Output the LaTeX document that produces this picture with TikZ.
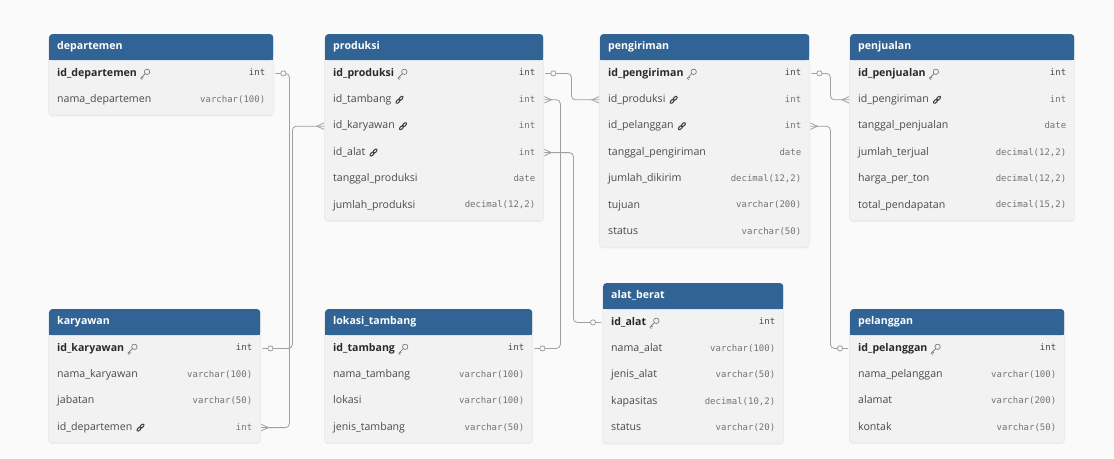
\documentclass[tikz,border=0pt]{standalone}
\usepackage{fontspec}
\setmainfont{Open Sans}
\newfontfamily\ermono{DejaVu Sans Mono}
\usetikzlibrary{calc}
\definecolor{bgc}{HTML}{FAFAFA}
\definecolor{hdr}{HTML}{316395}
\definecolor{bodyc}{HTML}{F2F2F2}
\definecolor{linec}{HTML}{A0A0A0}
\definecolor{pkc}{HTML}{2A2A2A}
\definecolor{namec}{HTML}{4A4A4A}
\definecolor{typec}{HTML}{737373}
\tikzset{
 conn/.style={draw=linec, line width=0.8pt},
 tblbody/.style={fill=bodyc, draw=black!6, rounded corners=3pt, inner sep=0pt},
 hdrbox/.style={fill=hdr, rounded corners=3pt, inner sep=0pt},
 rowbox/.style={inner sep=0pt, minimum height=26.4pt},
 ttl/.style={text=white, font=\bfseries\fontsize{10.6}{12}\selectfont, anchor=west, inner sep=0pt, text height=7.5pt, text depth=2pt},
 nm/.style={text=namec, font=\fontsize{10.6}{12}\selectfont, anchor=west, inner sep=0pt, text height=7.5pt, text depth=2pt},
 pknm/.style={text=pkc, font=\bfseries\fontsize{10.6}{12}\selectfont, anchor=west, inner sep=0pt, text height=7.5pt, text depth=2pt},
 ty/.style={text=typec, font=\ermono\fontsize{9}{10}\selectfont, anchor=east, inner sep=0pt, text height=7pt, text depth=2pt},
 pkty/.style={text=pkc!85, font=\ermono\fontsize{9}{10}\selectfont, anchor=east, inner sep=0pt, text height=7pt, text depth=2pt},
 keyic/.style={draw=pkc!65, line width=0.65pt},
 linkic/.style={draw=namec!90!black, line width=1.05pt},
}
\newcommand\ERtable[6]{%
 \def\ERid{#1}\def\ERx{#2}\def\ERy{#3}\def\ERw{#4}%
 \fill[black, opacity=0.06, rounded corners=4pt] (#2-1, #3+1) rectangle (#2+#4+1, {#3+26+#5*26.4+3.5});
 \node[tblbody, minimum width=#4pt, minimum height={(26+#5*26.4+1.5)*1pt}, anchor=north west] (#1) at (#2,#3) {};
 \node[hdrbox, minimum width=#4pt, minimum height=26pt, anchor=north west] (#1-h) at (#2,#3) {};
 \fill[hdr] (#2, #3+13) rectangle (#2+#4, #3+26);
 \node[ttl] (#1-ttl) at (#2+8, #3+13) {#6};
}
\newcommand\ERbox[1]{%
 \node[rowbox, minimum width=\ERw pt, anchor=north west] (\ERid-#1) at (\ERx, {\ERy+26+(#1-1)*26.4}) {};}
\newcommand\ERkey[1]{%
 \draw[keyic] ([shift={(10,-1.6)}]#1) circle (2.7);
 \draw[keyic] ([shift={(8.1,0.3)}]#1) -- ([shift={(3.6,4.8)}]#1) -- ([shift={(5.1,6.2)}]#1)
   ([shift={(5,3.4)}]#1) -- ([shift={(6.2,4.6)}]#1);}
\newcommand\ERlink[1]{%
 \draw[linkic, shift={(#1)}, xshift=8pt, rotate=45] (-2.1,0) ellipse (2.5 and 1.35) (2.1,0) ellipse (2.5 and 1.35);}
\newcommand\ERpk[3]{\ERbox{#1}%
 \node[pknm] (\ERid-#1n) at ([xshift=8pt]\ERid-#1.west) {#2};
 \node[pkty] (\ERid-#1t) at ([xshift=-8pt]\ERid-#1.east) {#3};
 \ERkey{\ERid-#1n.east}}
\newcommand\ERfk[3]{\ERbox{#1}%
 \node[nm] (\ERid-#1n) at ([xshift=8pt]\ERid-#1.west) {#2};
 \node[ty] (\ERid-#1t) at ([xshift=-8pt]\ERid-#1.east) {#3};
 \ERlink{\ERid-#1n.east}}
\newcommand\ERrow[3]{\ERbox{#1}%
 \node[nm] (\ERid-#1n) at ([xshift=8pt]\ERid-#1.west) {#2};
 \node[ty] (\ERid-#1t) at ([xshift=-8pt]\ERid-#1.east) {#3};}
\newcommand\crowE[1]{\draw[conn] ([shift={(1,-3.2)}]#1) -- ([shift={(8,0)}]#1) -- ([shift={(1,3.2)}]#1);}
\newcommand\crowW[1]{\draw[conn] ([shift={(-1,-3.2)}]#1) -- ([shift={(-8,0)}]#1) -- ([shift={(-1,3.2)}]#1);}
\newcommand\ringE[1]{\draw[conn, fill=bgc] ([shift={(10,0)}]#1) circle (2.6);}
\newcommand\ringW[1]{\draw[conn, fill=bgc] ([shift={(-10,0)}]#1) circle (2.6);}
\begin{document}
\begin{tikzpicture}[x=1pt, y=-1pt]
\useasboundingbox (0,0) rectangle (1114,458);
\fill[bgc] (0,0) rectangle (1114,458);

\ERtable{dep}{49}{34}{224}{2}{departemen}
\ERpk{1}{id\_departemen}{int}
\ERrow{2}{nama\_departemen}{varchar(100)}

\ERtable{pro}{325}{34}{218}{6}{produksi}
\ERpk{1}{id\_produksi}{int}
\ERfk{2}{id\_tambang}{int}
\ERfk{3}{id\_karyawan}{int}
\ERfk{4}{id\_alat}{int}
\ERrow{5}{tanggal\_produksi}{date}
\ERrow{6}{jumlah\_produksi}{decimal(12,2)}

\ERtable{pgr}{600}{34}{209}{7}{pengiriman}
\ERpk{1}{id\_pengiriman}{int}
\ERfk{2}{id\_produksi}{int}
\ERfk{3}{id\_pelanggan}{int}
\ERrow{4}{tanggal\_pengiriman}{date}
\ERrow{5}{jumlah\_dikirim}{decimal(12,2)}
\ERrow{6}{tujuan}{varchar(200)}
\ERrow{7}{status}{varchar(50)}

\ERtable{pju}{850}{34}{224}{6}{penjualan}
\ERpk{1}{id\_penjualan}{int}
\ERfk{2}{id\_pengiriman}{int}
\ERrow{3}{tanggal\_penjualan}{date}
\ERrow{4}{jumlah\_terjual}{decimal(12,2)}
\ERrow{5}{harga\_per\_ton}{decimal(12,2)}
\ERrow{6}{total\_pendapatan}{decimal(15,2)}

\ERtable{kar}{49}{309}{211}{4}{karyawan}
\ERpk{1}{id\_karyawan}{int}
\ERrow{2}{nama\_karyawan}{varchar(100)}
\ERrow{3}{jabatan}{varchar(50)}
\ERfk{4}{id\_departemen}{int}

\ERtable{lok}{325}{309}{207}{4}{lokasi\_tambang}
\ERpk{1}{id\_tambang}{int}
\ERrow{2}{nama\_tambang}{varchar(100)}
\ERrow{3}{lokasi}{varchar(100)}
\ERrow{4}{jenis\_tambang}{varchar(50)}

\ERtable{ala}{603}{283}{180}{5}{alat\_berat}
\ERpk{1}{id\_alat}{int}
\ERrow{2}{nama\_alat}{varchar(100)}
\ERrow{3}{jenis\_alat}{varchar(50)}
\ERrow{4}{kapasitas}{decimal(10,2)}
\ERrow{5}{status}{varchar(20)}

\ERtable{pel}{850}{309}{214}{4}{pelanggan}
\ERpk{1}{id\_pelanggan}{int}
\ERrow{2}{nama\_pelanggan}{varchar(100)}
\ERrow{3}{alamat}{varchar(200)}
\ERrow{4}{kontak}{varchar(50)}

% connectors
\draw[conn, rounded corners=4pt] ([xshift=2pt]dep-1.east) -- ++(14,0) |- ([xshift=1pt]kar-4.east);
\ringE{dep-1.east} \crowE{kar-4.east}

\draw[conn, rounded corners=4pt] ([xshift=2pt]kar-1.east) -- ++(30,0) |- ([xshift=-1pt]pro-3.west);
\ringE{kar-1.east} \crowW{pro-3.west}

\draw[conn, rounded corners=4pt] ([xshift=2pt]pro-1.east) -- ++(26,0) |- ([xshift=-1pt]pgr-2.west);
\ringE{pro-1.east} \crowW{pgr-2.west}

\draw[conn, rounded corners=4pt] ([xshift=1pt]pro-2.east) -- ++(16,0) |- ([xshift=2pt]lok-1.east);
\crowE{pro-2.east} \ringE{lok-1.east}

\draw[conn, rounded corners=4pt] ([xshift=1pt]pro-4.east) -- ++(29,0) |- ([xshift=-2pt]ala-1.west);
\crowE{pro-4.east} \ringW{ala-1.west}

\draw[conn, rounded corners=4pt] ([xshift=2pt]pgr-1.east) -- ++(19,0) |- ([xshift=-1pt]pju-2.west);
\ringE{pgr-1.east} \crowW{pju-2.west}

\draw[conn, rounded corners=4pt] ([xshift=1pt]pgr-3.east) -- ++(20,0) |- ([xshift=-2pt]pel-1.west);
\crowE{pgr-3.east} \ringW{pel-1.west}
\end{tikzpicture}
\end{document}
